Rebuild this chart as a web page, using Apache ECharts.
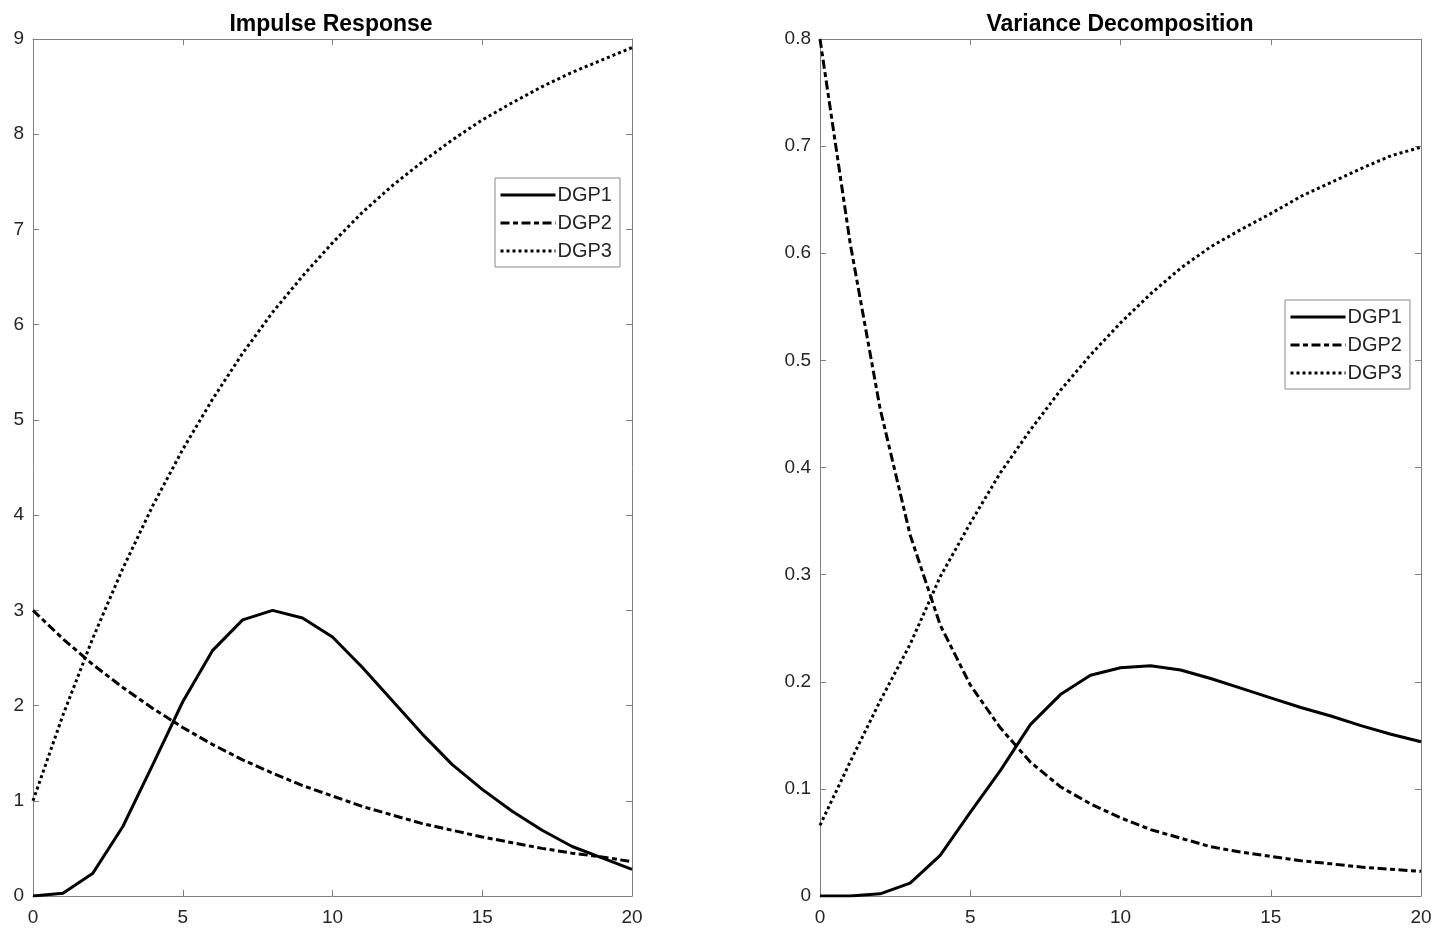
<!DOCTYPE html>
<html>
<head>
<meta charset="utf-8">
<script src="https://cdn.jsdelivr.net/npm/echarts@6/dist/echarts.min.js"></script>
<style>
  html, body { margin: 0; padding: 0; background: #fff; }
  #chart { width: 1436px; height: 931px; }
</style>
</head>
<body>
<div id="chart"></div>
<script>
// horizon steps
var steps = [0, 1, 2, 3, 4, 5, 6, 7, 8, 9, 10, 11, 12, 13, 14, 15, 16, 17, 18, 19, 20];
var names = ['DGP1', 'DGP2', 'DGP3'];

// impulse response
var irDgp1 = [0, 0.03, 0.24, 0.73, 1.38, 2.04, 2.58, 2.9, 3.0, 2.92, 2.72, 2.4, 2.05, 1.7, 1.38, 1.12, 0.89, 0.69, 0.52, 0.4, 0.28];
var irDgp2 = [3.0, 2.7, 2.43, 2.19, 1.97, 1.77, 1.59, 1.43, 1.29, 1.16, 1.05, 0.94, 0.85, 0.76, 0.69, 0.62, 0.56, 0.5, 0.45, 0.41, 0.36];
var irDgp3 = [1.0, 1.9, 2.71, 3.44, 4.1, 4.69, 5.22, 5.7, 6.13, 6.51, 6.86, 7.18, 7.46, 7.71, 7.94, 8.15, 8.33, 8.5, 8.65, 8.78, 8.91];

// variance decomposition
var vdDgp1 = [0, 0, 0.002, 0.012, 0.038, 0.078, 0.117, 0.16, 0.188, 0.206, 0.213, 0.215, 0.211, 0.203, 0.194, 0.185, 0.176, 0.168, 0.159, 0.151, 0.144];
var vdDgp2 = [0.8, 0.61, 0.455, 0.337, 0.253, 0.197, 0.157, 0.125, 0.102, 0.086, 0.073, 0.062, 0.054, 0.046, 0.041, 0.037, 0.033, 0.03, 0.027, 0.025, 0.023];
var vdDgp3 = [0.066, 0.125, 0.182, 0.235, 0.298, 0.348, 0.395, 0.435, 0.472, 0.505, 0.535, 0.562, 0.586, 0.606, 0.622, 0.637, 0.653, 0.666, 0.679, 0.691, 0.699];

var chart = echarts.init(document.getElementById('chart'));

var font = 'Arial, "Liberation Sans", Helvetica, sans-serif';
var axisGray = '#808080';
var textDark = '#262626';
var dashTypes = ['solid', [9, 3.5, 5, 3.5], [3, 3]];

function pairs(ys) {
  return steps.map(function (x, i) { return [x, ys[i]]; });
}

function xAxisFor(grid, pos) {
  return {
    type: 'value', gridIndex: grid, position: pos,
    min: 0, max: 20, interval: 5,
    axisLine: { show: true, onZero: false, lineStyle: { color: axisGray, width: 1 } },
    axisTick: { show: true, inside: true, length: 6, lineStyle: { color: axisGray } },
    axisLabel: { show: pos === 'bottom', color: textDark, fontSize: 19, fontFamily: font, margin: 12 },
    splitLine: { show: false }
  };
}

function yAxisFor(grid, pos, max, step) {
  return {
    type: 'value', gridIndex: grid, position: pos,
    min: 0, max: max, interval: step,
    axisLine: { show: true, onZero: false, lineStyle: { color: axisGray, width: 1 } },
    axisTick: { show: true, inside: true, length: 6, lineStyle: { color: axisGray } },
    axisLabel: { show: pos === 'left', color: textDark, fontSize: 19, fontFamily: font, margin: 9 },
    splitLine: { show: false }
  };
}

function lineSeries(name, k, grid, ys) {
  return {
    name: name, type: 'line',
    xAxisIndex: grid * 2, yAxisIndex: grid * 2,
    symbol: 'none', silent: true, animation: false,
    color: '#000',
    itemStyle: { color: '#000' },
    lineStyle: { color: '#000', width: 3, type: dashTypes[k] },
    data: pairs(ys)
  };
}

function legendAt(left, top) {
  return {
    orient: 'vertical', left: left, top: top,
    data: names,
    itemWidth: 55, itemHeight: 14, itemGap: 6,
    padding: [6, 8, 5, 4],
    borderColor: '#8a8a8a', borderWidth: 1,
    selectedMode: false,
    itemStyle: { opacity: 0 },
    lineStyle: { width: 3 },
    textStyle: { color: textDark, fontSize: 20, fontFamily: font, lineHeight: 22, padding: [0, 0, 0, -3] }
  };
}

var option = {
  backgroundColor: '#fff',
  title: [
    { text: 'Impulse Response', left: 326, top: 8, textAlign: 'center',
      textStyle: { fontSize: 23, fontWeight: 'bold', color: '#000', fontFamily: font } },
    { text: 'Variance Decomposition', left: 1115, top: 8, textAlign: 'center',
      textStyle: { fontSize: 23, fontWeight: 'bold', color: '#000', fontFamily: font } }
  ],
  legend: [legendAt(495, 178), legendAt(1285, 300)],
  grid: [
    { left: 33, top: 39, width: 599, height: 857 },
    { left: 820, top: 39, width: 601, height: 857 }
  ],
  xAxis: [xAxisFor(0, 'bottom'), xAxisFor(0, 'top'), xAxisFor(1, 'bottom'), xAxisFor(1, 'top')],
  yAxis: [yAxisFor(0, 'left', 9, 1), yAxisFor(0, 'right', 9, 1),
          yAxisFor(1, 'left', 0.8, 0.1), yAxisFor(1, 'right', 0.8, 0.1)],
  series: [
    lineSeries(names[0], 0, 0, irDgp1),
    lineSeries(names[1], 1, 0, irDgp2),
    lineSeries(names[2], 2, 0, irDgp3),
    lineSeries(names[0], 0, 1, vdDgp1),
    lineSeries(names[1], 1, 1, vdDgp2),
    lineSeries(names[2], 2, 1, vdDgp3)
  ]
};

chart.setOption(option);
window.addEventListener('resize', chart.resize);
</script>
</body>
</html>
